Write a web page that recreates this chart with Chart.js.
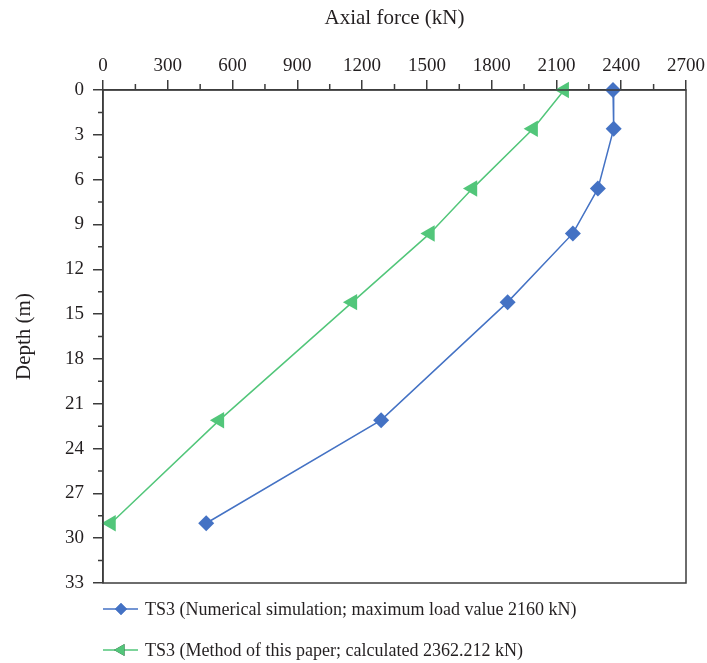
<!DOCTYPE html>
<html>
<head>
<meta charset="utf-8">
<script src="https://cdn.jsdelivr.net/npm/chart.js@4"></script>
<style>
  html, body { margin: 0; padding: 0; background: #fff; }
  #wrap { width: 707px; height: 663px; }
</style>
</head>
<body>
<div id="wrap"><canvas id="axialChart" width="707" height="663"></canvas></div>
<script>
// depth along the pile (m) and axial force (kN)
const depths = [0, 2.6, 6.6, 9.6, 14.2, 22.1, 29.0];
const simulatedForce = [2362, 2365, 2292, 2176, 1874, 1288, 478];
const methodForce = [2136, 1992, 1711, 1514, 1155, 539, 37];

const forceTicks = [0, 300, 600, 900, 1200, 1500, 1800, 2100, 2400, 2700];
const depthTicks = [0, 3, 6, 9, 12, 15, 18, 21, 24, 27, 30, 33];

const seriesNames = [
    'TS3 (Numerical simulation; maximum load value 2160 kN)',
    'TS3 (Method of this paper; calculated 2362.212 kN)'
];

const blue = '#4472c4';
const green = '#52c67a';
const axisColor = '#3c3c3c';
const textColor = '#231f20';
const serif = "'Liberation Serif', 'DejaVu Serif', serif";

function toPoints(xs) {
    return xs.map((x, i) => ({ x: x, y: depths[i] }));
}

// box around the plot, minor ticks and the legend under the chart
const framePlugin = {
    id: 'frame',
    afterDraw(chart) {
        const ctx = chart.ctx;
        const a = chart.chartArea;
        const xs = chart.scales.x;
        const ys = chart.scales.y;
        ctx.save();
        ctx.strokeStyle = axisColor;
        ctx.lineWidth = 1.5;
        ctx.strokeRect(a.left, a.top, a.right - a.left, a.bottom - a.top);

        ctx.beginPath();
        for (let i = 0; i < forceTicks.length - 1; i++) {
            const px = xs.getPixelForValue((forceTicks[i] + forceTicks[i + 1]) / 2);
            ctx.moveTo(px, a.top);
            ctx.lineTo(px, a.top - 6);
        }
        for (let i = 0; i < depthTicks.length - 1; i++) {
            const py = ys.getPixelForValue((depthTicks[i] + depthTicks[i + 1]) / 2);
            ctx.moveTo(a.left, py);
            ctx.lineTo(a.left - 5, py);
        }
        ctx.stroke();

        // legend
        chart.data.datasets.forEach((ds, i) => {
            const y = 609 + i * 41;
            ctx.strokeStyle = ds.borderColor;
            ctx.lineWidth = 1.5;
            ctx.beginPath();
            ctx.moveTo(103, y);
            ctx.lineTo(138, y);
            ctx.stroke();
            Chart.helpers.drawPoint(ctx, {
                pointStyle: ds.pointStyle,
                rotation: ds.pointRotation || 0,
                radius: i === 0 ? 6 : 7,
                borderWidth: 0
            }, 121, y);
            ctx.fillStyle = ds.backgroundColor;
            ctx.fill();
            ctx.fillStyle = textColor;
            ctx.font = '18px ' + serif;
            ctx.textBaseline = 'middle';
            ctx.textAlign = 'left';
            ctx.fillText(seriesNames[i], 145, y + 1);
        });
        ctx.restore();
    }
};

const ctx = document.getElementById('axialChart').getContext('2d');
const axialChart = new Chart(ctx, {
    type: 'line',
    data: {
        datasets: [{
            label: seriesNames[0],
            data: toPoints(simulatedForce),
            borderColor: blue,
            backgroundColor: blue,
            borderWidth: 1.5,
            pointStyle: 'rectRot',
            pointRadius: 8,
            pointBorderWidth: 0,
            pointHoverRadius: 8
        }, {
            label: seriesNames[1],
            data: toPoints(methodForce),
            borderColor: green,
            backgroundColor: green,
            borderWidth: 1.5,
            pointStyle: 'triangle',
            pointRotation: -90,
            pointRadius: 9.5,
            pointBorderWidth: 0,
            pointHoverRadius: 9.5
        }]
    },
    options: {
        responsive: false,
        animation: false,
        clip: false,
        layout: { padding: { left: 0, top: 0, right: 21, bottom: 80 } },
        plugins: {
            legend: { display: false },
            tooltip: { enabled: false }
        },
        scales: {
            x: {
                type: 'linear',
                position: 'top',
                min: 0,
                max: 2700,
                afterBuildTicks(scale) {
                    scale.ticks = forceTicks.map(v => ({ value: v }));
                },
                afterFit(scale) {
                    scale.height = 90;
                    scale.paddingLeft = 0;
                    scale.paddingRight = 0;
                },
                grid: { drawOnChartArea: false, tickLength: 10, color: axisColor, lineWidth: 1.5 },
                border: { color: axisColor, width: 1.5 },
                ticks: {
                    color: textColor,
                    padding: 3,
                    maxRotation: 0,
                    callback: v => String(v),
                    font: { family: serif, size: 19 }
                },
                title: {
                    display: true,
                    text: 'Axial force (kN)',
                    color: textColor,
                    padding: { top: 6, bottom: 0 },
                    font: { family: serif, size: 21 }
                }
            },
            y: {
                type: 'linear',
                reverse: true,
                min: 0,
                max: 33,
                afterBuildTicks(scale) {
                    scale.ticks = depthTicks.map(v => ({ value: v }));
                },
                afterFit(scale) {
                    scale.width = 103;
                    scale.paddingTop = 0;
                    scale.paddingBottom = 0;
                },
                grid: { drawOnChartArea: false, tickLength: 10, color: axisColor, lineWidth: 1.5 },
                border: { color: axisColor, width: 1.5 },
                ticks: {
                    color: textColor,
                    padding: 9,
                    callback: v => String(v),
                    font: { family: serif, size: 19 }
                },
                title: {
                    display: true,
                    text: 'Depth (m)',
                    color: textColor,
                    padding: { top: 12, bottom: 0 },
                    font: { family: serif, size: 21 }
                }
            }
        }
    },
    plugins: [framePlugin]
});
</script>
</body>
</html>
